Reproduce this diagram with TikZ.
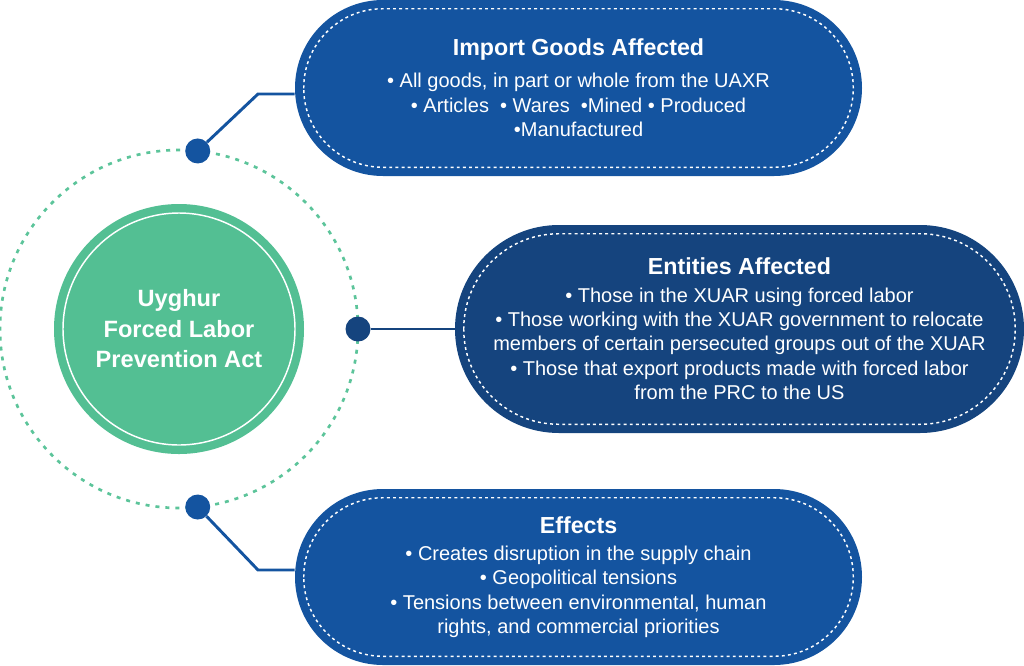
\documentclass[tikz,border=0pt]{standalone}
\usepackage{fontspec}
\setmainfont{Liberation Sans}
\usepackage{xcolor}
\usepackage{tikz}
\usetikzlibrary{
	arrows.meta,
	calc,
	positioning
}

\definecolor{goodsblue}{HTML}{1454A0}
\definecolor{entitynavy}{HTML}{15447E}
\definecolor{actgreen}{HTML}{53BF93}
\definecolor{ringgreen}{HTML}{5CC49A}

\tikzset{
	pill/.style={rectangle, fill=#1, text=white, align=center, inner sep=0pt,
		font=\fontsize{15}{18.3}\selectfont},
	seam/.style={draw=white, line width=1.1pt, dash pattern=on 2.2pt off 2.4pt},
	dot/.style={circle, fill=#1, inner sep=0pt, minimum size=18.75pt},
	link/.style={draw=#1, line width=2.2pt}
}

\begin{document}
\begin{tikzpicture}[x=0.75pt, y=-0.75pt]
		\useasboundingbox (0,0) rectangle (1024,665);
		\node[circle, fill=actgreen, minimum size=187.5pt, inner sep=0pt, text=white, align=center,
			font=\fontsize{17.7}{22.9}\selectfont\bfseries] (act) at (179,329)
			{Uyghur\\Forced Labor\\Prevention Act};
		\draw[white, line width=1.1pt] (act.center) circle (87pt);
		\draw[ringgreen, line width=2pt, dash pattern=on 3pt off 4.5pt] (act.center) circle (134.25pt);
		\node[pill=goodsblue, minimum width=425.25pt, minimum height=132pt, rounded corners=66pt]
			(goods) at (578.5,88)
			{{\fontsize{17.4}{22}\selectfont\bfseries Import Goods Affected}\\[5.7pt]
			• All goods, in part or whole from the UAXR\\
			• Articles \ • Wares \ •Mined • Produced\\
			•Manufactured};
		\node[pill=entitynavy, minimum width=426.75pt, minimum height=156pt, rounded corners=78pt]
			(entities) at (739.5,329)
			{{\fontsize{17.4}{22}\selectfont\bfseries Entities Affected}\\[2pt]
			• Those in the XUAR using forced labor\\
			• Those working with the XUAR government to relocate\\
			members of certain persecuted groups out of the XUAR\\
			• Those that export products made with forced labor\\
			from the PRC to the US};
		\node[pill=goodsblue, minimum width=425.25pt, minimum height=132pt, rounded corners=66pt]
			(effects) at (578.5,577)
			{{\fontsize{17.4}{22}\selectfont\bfseries Effects}\\[2pt]
			• Creates disruption in the supply chain\\
			• Geopolitical tensions\\
			• Tensions between environmental, human\\
			rights, and commercial priorities};
		\draw[seam, rounded corners=59.25pt] ($(goods.south west)+(9,-9)$) rectangle ($(goods.north east)+(-9,9)$);
		\draw[seam, rounded corners=71.25pt] ($(entities.south west)+(9,-9)$) rectangle ($(entities.north east)+(-9,9)$);
		\draw[seam, rounded corners=59.25pt] ($(effects.south west)+(9,-9)$) rectangle ($(effects.north east)+(-9,9)$);
		\path (act.center) ++(84:134.25pt) node[dot=goodsblue] (dgoods) {};
		\path (act.center) ++(0:134.25pt) node[dot=entitynavy] (dentities) {};
		\path (act.center) ++(-84:134.25pt) node[dot=goodsblue] (deffects) {};
		\coordinate (kgoods) at (258,94);
		\coordinate (keffects) at (258,570);
		\draw[link=goodsblue] (dgoods) -- (kgoods) -- (kgoods -| goods.west);
		\draw[link=entitynavy] (dentities) -- (entities.west);
		\draw[link=goodsblue] (deffects) -- (keffects) -- (keffects -| effects.west);
	\end{tikzpicture}
\end{document}
